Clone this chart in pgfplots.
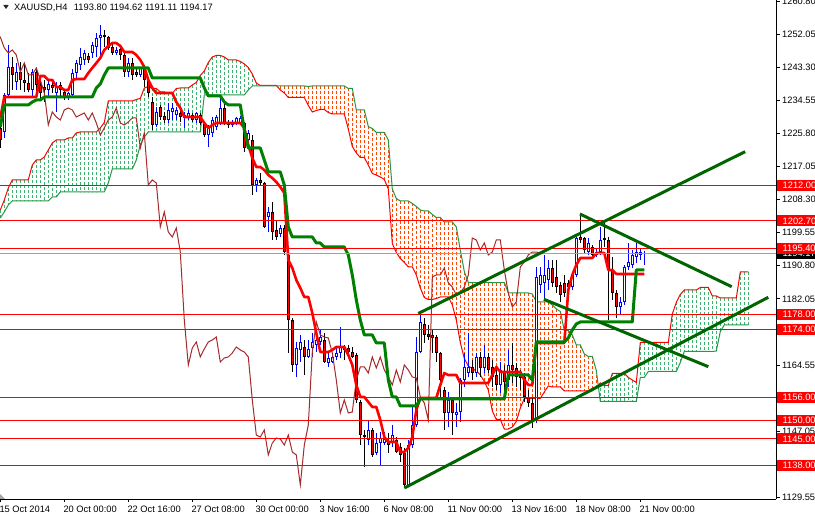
\documentclass[border=0pt]{standalone}
\usepackage{pgfplots}
\pgfplotsset{compat=1.18}
\usepackage{pgfplotstable}
\usepackage{fontspec}
\setmainfont{Liberation Sans}
\definecolor{hatchG}{RGB}{60,179,113}
\definecolor{hatchO}{RGB}{255,69,0}
\definecolor{spanB}{RGB}{40,150,70}
\definecolor{kij}{RGB}{0,128,0}
\definecolor{chik}{RGB}{165,42,42}
\definecolor{trend}{RGB}{0,100,0}
\definecolor{bull}{RGB}{0,0,255}
\definecolor{bidgray}{RGB}{160,160,160}
\newcommand{\lbl}{\fontsize{9.3bp}{11bp}\selectfont}

\pgfplotstableread{
i O H L C
0 1227.26 1228.85 1221.97 1224.09
1 1226.21 1236.52 1224.62 1236.00
2 1236.00 1249.22 1235.73 1243.40
3 1243.40 1246.05 1237.32 1241.29
4 1239.43 1244.46 1237.32 1242.08
5 1242.08 1244.73 1237.32 1239.96
6 1239.96 1243.93 1236.79 1239.17
7 1239.17 1241.81 1236.79 1237.32
8 1237.32 1242.87 1235.47 1242.08
9 1242.08 1243.14 1236.52 1238.64
10 1238.64 1241.29 1234.67 1236.52
11 1238.11 1239.96 1234.14 1237.32
12 1237.32 1239.96 1235.47 1238.90
13 1238.64 1239.43 1236.52 1237.85
14 1236.52 1239.43 1231.50 1238.38
15 1238.64 1239.43 1235.20 1237.32
16 1236.79 1237.32 1234.67 1235.20
17 1235.20 1236.79 1234.67 1236.52
18 1236.00 1242.87 1235.47 1241.81
19 1241.81 1245.26 1240.49 1244.46
20 1243.93 1248.43 1242.61 1246.05
21 1245.26 1247.90 1243.93 1247.11
22 1246.31 1247.11 1244.46 1245.26
23 1247.11 1250.02 1245.78 1249.22
24 1248.70 1252.40 1246.05 1251.08
25 1251.08 1254.51 1246.05 1251.87
26 1251.87 1253.19 1248.70 1251.34
27 1251.34 1251.60 1247.90 1248.43
28 1248.70 1249.75 1246.58 1247.11
29 1247.11 1248.70 1246.58 1247.90
30 1248.17 1249.22 1245.26 1246.58
31 1246.58 1247.37 1240.76 1242.08
32 1242.08 1245.78 1240.76 1244.46
33 1244.46 1245.78 1239.96 1241.29
34 1242.08 1243.14 1240.76 1241.29
35 1241.29 1243.40 1240.76 1243.14
36 1243.14 1243.40 1238.11 1239.96
37 1239.96 1240.76 1235.47 1236.52
38 1234.14 1235.47 1226.73 1228.06
39 1228.06 1232.82 1227.53 1231.50
40 1232.82 1233.35 1229.38 1230.17
41 1230.44 1231.50 1228.59 1229.38
42 1229.38 1233.88 1228.59 1232.03
43 1231.50 1233.88 1229.38 1232.56
44 1230.70 1232.82 1229.38 1232.03
45 1231.23 1232.56 1228.85 1230.17
46 1229.91 1231.50 1227.26 1230.70
47 1229.91 1232.03 1229.38 1231.23
48 1230.70 1231.23 1228.85 1229.38
49 1229.38 1231.50 1228.59 1231.23
50 1230.70 1231.23 1228.06 1228.59
51 1228.59 1228.85 1224.88 1225.41
52 1225.41 1228.06 1222.24 1227.26
53 1225.94 1230.17 1224.88 1229.38
54 1227.53 1230.70 1226.73 1230.17
55 1228.59 1235.20 1228.06 1232.56
56 1232.56 1234.67 1228.06 1228.59
57 1228.85 1229.38 1227.26 1228.06
58 1228.06 1229.38 1227.53 1228.85
59 1228.59 1230.17 1228.06 1229.91
60 1228.59 1230.44 1228.06 1229.91
61 1228.59 1228.85 1220.91 1221.97
62 1224.09 1226.73 1223.29 1225.94
63 1224.09 1225.41 1209.54 1212.18
64 1212.18 1214.03 1210.33 1213.51
65 1213.51 1215.36 1212.18 1212.71
66 1212.71 1212.98 1200.81 1201.07
67 1203.71 1206.36 1199.75 1205.04
68 1205.04 1207.68 1197.63 1199.75
69 1200.28 1202.92 1197.63 1198.42
70 1199.22 1201.60 1198.42 1200.81
71 1200.81 1201.60 1193.66 1194.45
72 1193.66 1194.19 1167.73 1176.46
73 1176.46 1176.99 1162.71 1164.56
74 1164.56 1170.64 1161.38 1169.06
75 1168.53 1172.50 1165.35 1170.64
76 1169.32 1171.17 1161.91 1166.68
77 1166.68 1171.17 1166.41 1168.79
78 1169.06 1173.02 1166.68 1170.64
79 1169.85 1173.82 1168.00 1171.17
80 1170.64 1173.82 1169.85 1171.97
81 1171.17 1173.02 1165.09 1165.35
82 1165.09 1167.73 1164.03 1166.41
83 1165.35 1167.20 1165.09 1166.68
84 1166.68 1169.32 1165.88 1167.73
85 1167.73 1174.61 1166.41 1169.32
86 1169.32 1169.85 1165.88 1168.53
87 1169.06 1169.85 1167.20 1168.00
88 1168.00 1169.32 1166.41 1166.68
89 1167.20 1167.73 1154.51 1155.30
90 1154.77 1155.30 1143.39 1146.04
91 1146.04 1147.36 1137.57 1145.51
92 1144.71 1150.01 1143.39 1147.36
93 1147.36 1147.89 1140.22 1140.75
94 1141.27 1146.57 1140.75 1143.92
95 1143.92 1146.83 1138.10 1145.24
96 1143.92 1146.83 1143.39 1144.98
97 1144.18 1146.57 1141.27 1143.39
98 1143.92 1148.68 1142.86 1146.04
99 1144.71 1145.51 1141.27 1141.54
100 1142.86 1143.92 1138.89 1140.75
101 1141.27 1142.60 1132.02 1132.81
102 1132.81 1144.71 1132.28 1143.39
103 1143.39 1153.45 1142.60 1148.68
104 1148.68 1171.97 1148.15 1168.00
105 1168.00 1177.79 1167.73 1175.94
106 1175.41 1176.99 1170.38 1172.50
107 1172.76 1175.14 1171.17 1171.97
108 1172.50 1173.82 1167.73 1171.70
109 1171.97 1172.50 1165.35 1167.73
110 1167.73 1168.00 1156.09 1160.59
111 1157.94 1158.74 1147.36 1151.86
112 1151.86 1157.41 1148.15 1155.30
113 1155.30 1155.83 1146.04 1151.86
114 1151.33 1154.51 1148.15 1152.12
115 1152.12 1161.12 1149.48 1160.59
116 1160.59 1167.73 1158.74 1164.03
117 1162.44 1173.02 1161.38 1164.03
118 1164.03 1165.88 1160.59 1162.44
119 1162.44 1167.73 1161.38 1166.68
120 1166.68 1168.00 1161.38 1163.76
121 1163.76 1169.85 1162.44 1166.68
122 1166.68 1167.73 1162.44 1163.23
123 1164.03 1165.88 1158.74 1161.38
124 1161.91 1163.76 1157.94 1159.27
125 1159.27 1165.35 1157.15 1163.23
126 1162.71 1164.56 1157.94 1160.06
127 1160.59 1168.53 1158.74 1164.56
128 1164.56 1170.38 1159.80 1163.23
129 1163.76 1165.09 1158.74 1161.38
130 1161.91 1163.23 1157.94 1161.12
131 1161.38 1162.44 1154.77 1156.09
132 1156.09 1157.94 1153.45 1154.51
133 1154.51 1156.09 1147.89 1150.01
134 1150.01 1190.49 1149.21 1187.84
135 1185.72 1190.49 1183.61 1188.37
136 1186.25 1193.66 1181.76 1188.37
137 1187.05 1192.34 1184.40 1190.22
138 1190.22 1192.34 1185.19 1186.25
139 1187.84 1192.34 1183.61 1185.19
140 1185.72 1186.52 1181.23 1183.08
141 1186.25 1188.37 1182.55 1183.61
142 1186.25 1187.05 1183.87 1185.19
143 1185.19 1188.90 1184.40 1188.37
144 1188.37 1198.42 1187.84 1198.16
145 1198.42 1204.24 1196.84 1197.63
146 1198.16 1198.42 1194.19 1194.98
147 1194.45 1198.16 1193.66 1196.84
148 1195.78 1196.31 1193.13 1193.66
149 1193.66 1195.51 1193.13 1194.45
150 1194.45 1201.07 1193.66 1197.63
151 1198.16 1202.13 1195.78 1197.63
152 1197.63 1198.42 1176.46 1189.69
153 1189.69 1193.13 1181.76 1183.61
154 1183.61 1184.40 1176.99 1179.90
155 1179.90 1182.55 1177.79 1181.23
156 1181.23 1191.02 1180.43 1190.49
157 1190.49 1196.84 1189.69 1191.81
158 1191.02 1194.98 1190.22 1193.66
159 1193.13 1196.84 1191.55 1194.45
160 1193.66 1195.51 1192.34 1194.45
161 1193.80 1194.62 1191.11 1194.17
}\candles

\pgfplotstableread{
i T K
0 1229.91 1227.53
1 1235.47 1233.35
2 1235.47 1233.35
3 1235.47 1233.35
4 1235.47 1233.35
5 1235.47 1233.35
6 1235.47 1233.35
7 1235.47 1233.35
8 1235.47 1234.14
9 1235.47 1234.67
10 1241.02 1234.67
11 1241.02 1235.47
12 1239.96 1235.47
13 1239.96 1235.47
14 1238.11 1235.47
15 1238.11 1235.47
16 1237.32 1235.47
17 1237.32 1235.47
18 1239.96 1235.47
19 1240.23 1235.47
20 1240.23 1235.47
21 1240.23 1235.47
22 1241.81 1235.47
23 1243.14 1235.47
24 1244.46 1237.85
25 1245.78 1238.90
26 1247.90 1241.29
27 1248.96 1243.14
28 1249.75 1243.14
29 1249.75 1243.14
30 1248.96 1243.14
31 1247.37 1243.14
32 1247.37 1243.14
33 1247.37 1243.14
34 1246.58 1243.14
35 1245.26 1243.14
36 1243.40 1243.14
37 1239.96 1243.14
38 1237.85 1240.49
39 1236.52 1240.49
40 1236.52 1240.49
41 1236.52 1240.49
42 1236.52 1240.49
43 1236.52 1240.49
44 1234.14 1240.49
45 1232.56 1240.49
46 1230.17 1240.49
47 1230.17 1240.49
48 1230.17 1240.49
49 1230.17 1240.49
50 1230.17 1240.49
51 1228.59 1237.85
52 1227.26 1235.73
53 1228.06 1235.73
54 1228.59 1235.73
55 1228.59 1235.73
56 1228.59 1234.14
57 1228.59 1233.35
58 1228.59 1233.35
59 1228.59 1233.35
60 1228.59 1233.35
61 1227.26 1226.73
62 1222.77 1221.97
63 1219.33 1221.97
64 1216.95 1221.97
65 1216.95 1221.97
66 1216.15 1218.80
67 1214.83 1215.62
68 1214.03 1215.62
69 1212.98 1215.62
70 1211.65 1215.62
71 1210.07 1212.18
72 1192.34 1201.07
73 1190.22 1198.42
74 1187.05 1198.42
75 1184.93 1198.42
76 1182.55 1198.42
77 1182.55 1198.42
78 1178.32 1198.42
79 1173.02 1196.84
80 1168.00 1196.84
81 1168.00 1195.78
82 1168.00 1195.78
83 1168.53 1195.78
84 1169.32 1195.78
85 1169.32 1195.78
86 1169.32 1195.78
87 1167.20 1193.66
88 1164.56 1188.37
89 1159.27 1181.76
90 1156.09 1176.46
91 1156.09 1172.50
92 1154.77 1172.50
93 1153.45 1172.50
94 1153.45 1170.38
95 1150.01 1170.38
96 1145.51 1170.38
97 1144.18 1160.59
98 1144.18 1156.09
99 1144.18 1156.09
100 1141.54 1153.71
101 1141.54 1153.71
102 1142.60 1153.71
103 1145.51 1153.71
104 1152.65 1153.71
105 1155.83 1155.56
106 1155.83 1155.56
107 1155.83 1155.56
108 1155.83 1155.56
109 1155.83 1155.56
110 1159.27 1155.56
111 1162.44 1155.56
112 1161.91 1155.56
113 1161.91 1155.56
114 1161.91 1155.56
115 1159.80 1155.56
116 1159.80 1155.56
117 1159.80 1155.56
118 1159.80 1155.56
119 1159.80 1155.56
120 1159.80 1155.56
121 1159.80 1155.56
122 1159.80 1155.56
123 1161.91 1155.56
124 1164.03 1155.56
125 1162.71 1155.56
126 1162.71 1155.56
127 1162.71 1161.91
128 1162.71 1161.91
129 1162.71 1161.91
130 1162.71 1161.91
131 1160.59 1161.91
132 1159.27 1161.91
133 1159.27 1160.59
134 1170.38 1170.64
135 1170.38 1170.64
136 1170.38 1170.64
137 1170.38 1170.64
138 1170.38 1170.64
139 1170.38 1170.64
140 1170.38 1170.64
141 1170.38 1170.64
142 1184.40 1171.70
143 1188.37 1173.82
144 1191.02 1175.41
145 1192.87 1175.94
146 1192.87 1175.94
147 1192.87 1175.94
148 1192.87 1175.94
149 1194.19 1175.94
150 1194.19 1175.94
151 1194.19 1175.94
152 1189.69 1175.94
153 1189.69 1175.94
154 1188.64 1175.94
155 1188.64 1175.94
156 1188.64 1175.94
157 1188.64 1175.94
158 1188.64 1175.94
159 1188.64 1189.69
160 1188.64 1189.69
161 1188.64 1189.69
}\ind

\pgfplotstableread{
i A B
0 1205.57 1203.45
1 1208.21 1205.04
2 1211.39 1206.89
3 1213.51 1207.95
4 1213.51 1207.95
5 1213.51 1207.95
6 1213.51 1207.95
7 1213.51 1207.95
8 1217.47 1207.95
9 1218.80 1207.95
10 1218.80 1207.95
11 1219.59 1207.95
12 1221.44 1207.95
13 1223.29 1209.01
14 1224.09 1209.01
15 1224.09 1210.33
16 1224.09 1210.33
17 1224.62 1210.33
18 1224.62 1210.33
19 1225.94 1210.33
20 1226.21 1210.33
21 1226.21 1210.33
22 1226.21 1210.33
23 1226.21 1210.33
24 1226.21 1210.33
25 1227.26 1210.33
26 1228.72 1210.33
27 1234.41 1212.71
28 1234.41 1216.42
29 1234.41 1216.42
30 1234.41 1216.42
31 1234.41 1216.42
32 1234.41 1216.42
33 1234.41 1216.42
34 1234.80 1218.80
35 1235.07 1222.77
36 1237.85 1224.88
37 1238.24 1226.21
38 1237.71 1226.21
39 1237.71 1226.21
40 1236.79 1226.21
41 1236.79 1226.21
42 1236.39 1226.21
43 1236.39 1226.21
44 1237.71 1226.21
45 1237.85 1226.21
46 1237.85 1226.21
47 1237.85 1226.21
48 1238.64 1226.21
49 1239.30 1226.21
50 1241.15 1226.21
51 1242.34 1236.00
52 1244.59 1236.00
53 1246.05 1236.00
54 1246.45 1236.00
55 1246.45 1236.00
56 1246.05 1236.00
57 1245.26 1236.00
58 1245.26 1236.00
59 1245.26 1236.00
60 1244.86 1236.00
61 1244.20 1236.00
62 1243.27 1237.32
63 1241.55 1238.38
64 1239.17 1238.38
65 1238.51 1238.38
66 1238.51 1238.38
67 1238.51 1238.38
68 1238.51 1238.38
69 1238.51 1238.38
70 1237.32 1238.38
71 1236.52 1238.38
72 1235.33 1238.38
73 1235.33 1238.38
74 1235.33 1238.38
75 1235.33 1238.38
76 1235.33 1238.38
77 1233.22 1238.24
78 1231.50 1238.38
79 1231.89 1238.38
80 1232.16 1238.38
81 1232.16 1238.38
82 1231.36 1238.38
83 1230.97 1238.38
84 1230.97 1238.38
85 1230.97 1238.38
86 1230.97 1238.38
87 1227.00 1237.71
88 1222.37 1237.71
89 1220.65 1232.03
90 1219.46 1232.03
91 1219.46 1232.03
92 1217.47 1227.66
93 1215.22 1227.13
94 1214.83 1226.07
95 1214.30 1226.07
96 1213.64 1226.07
97 1211.12 1224.09
98 1196.70 1211.12
99 1194.32 1208.61
100 1192.74 1207.95
101 1191.68 1207.95
102 1190.49 1207.95
103 1190.49 1207.29
104 1188.37 1206.49
105 1184.93 1205.57
106 1182.42 1205.30
107 1181.89 1205.30
108 1181.89 1204.38
109 1182.15 1203.58
110 1182.55 1203.58
111 1182.55 1202.39
112 1182.55 1202.39
113 1180.43 1202.39
114 1176.46 1201.07
115 1170.51 1194.98
116 1166.28 1189.29
117 1164.29 1186.38
118 1163.63 1186.38
119 1162.97 1186.38
120 1161.91 1186.38
121 1160.19 1186.38
122 1157.94 1186.38
123 1152.39 1186.38
124 1150.14 1186.38
125 1150.14 1186.38
126 1147.62 1186.38
127 1147.62 1183.61
128 1148.15 1183.61
129 1149.61 1183.61
130 1153.18 1183.61
131 1155.69 1183.61
132 1155.69 1183.61
133 1155.69 1183.34
134 1155.69 1181.23
135 1155.69 1181.23
136 1157.41 1181.23
137 1159.00 1181.23
138 1158.74 1180.43
139 1158.74 1179.37
140 1158.74 1178.71
141 1157.68 1173.69
142 1157.68 1173.69
143 1157.68 1172.50
144 1157.68 1169.85
145 1157.68 1169.85
146 1157.68 1167.47
147 1157.68 1166.81
148 1157.68 1166.81
149 1158.74 1163.10
150 1159.80 1154.90
151 1159.14 1154.90
152 1159.14 1154.90
153 1162.31 1154.90
154 1162.31 1154.90
155 1162.31 1154.90
156 1162.31 1154.90
157 1161.25 1154.90
158 1160.59 1154.90
159 1159.93 1154.90
160 1170.51 1161.25
161 1170.51 1161.25
162 1170.51 1162.84
163 1170.51 1162.84
164 1170.51 1162.84
165 1170.51 1162.84
166 1170.51 1162.84
167 1170.51 1162.84
168 1178.05 1162.84
169 1181.09 1162.84
170 1183.21 1165.22
171 1184.40 1168.13
172 1184.40 1168.13
173 1184.40 1168.13
174 1184.40 1168.13
175 1185.06 1168.13
176 1185.06 1168.13
177 1185.06 1168.13
178 1182.81 1168.13
179 1182.81 1168.26
180 1182.28 1173.42
181 1182.28 1175.14
182 1182.28 1175.14
183 1182.28 1175.14
184 1182.28 1175.14
185 1189.16 1175.14
186 1189.16 1175.14
187 1189.16 1175.14
}\cloud

\pgfplotsset{
  vbar/.style 2 args={draw=none, mark=none,
    error bars/y dir=minus, error bars/y explicit,
    error bars/error mark=none,
    error bars/error bar style={draw=#1, line width=#2, solid}},
  vhatch/.style={draw=none, mark=none,
    error bars/y dir=minus, error bars/y explicit,
    error bars/error mark=none,
    error bars/error bar style={draw=#1, line width=1bp, dash pattern=on 3bp off 2bp}},
}

\begin{document}
\begin{tikzpicture}
\useasboundingbox (0,0) rectangle (815bp,516bp);
\begin{axis}[
  at={(0,17bp)}, anchor=south west,
  scale only axis, width=776bp, height=499bp,
  xmin=-0.075, xmax=193.925, ymin=1129.10, ymax=1261.125,
  axis x line*=bottom, axis y line*=right,
  axis line style={black, line width=1bp},
  tick align=outside, major tick length=3.5bp,
  tick style={black, line width=1bp},
  /pgf/number format/assume math mode=true,
  xtick={0,16,32,48,64,80,96,112,128,144,160},
  xticklabels={15 Oct 2014,20 Oct 00:00,22 Oct 16:00,27 Oct 08:00,30 Oct 00:00,3 Nov 16:00,6 Nov 08:00,11 Nov 00:00,13 Nov 16:00,18 Nov 08:00,21 Nov 00:00},
  ytick={1129.55,1138.30,1147.05,1155.80,1164.55,1173.30,1182.05,1190.80,1199.55,1208.30,1217.05,1225.80,1234.55,1243.30,1252.05,1260.80},
  scaled y ticks=false,
  yticklabel style={font=\lbl, anchor=west, inner sep=0pt, xshift=2.5bp,
    /pgf/number format/fixed, /pgf/number format/fixed zerofill,
    /pgf/number format/precision=2, /pgf/number format/1000 sep={}},
  xticklabel style={font=\lbl, anchor=base west, inner sep=0pt, xshift=-1bp, yshift=-10bp},
]
% cloud hatching
\addplot[vhatch=hatchG] table[x=i, y=A, y error minus expr={max(\thisrow{A}-\thisrow{B},0)}] {\cloud};
\addplot[vhatch=hatchO] table[x=i, y=B, y error minus expr={max(\thisrow{B}-\thisrow{A},0)}] {\cloud};
\addplot[red, line width=1bp] table[x=i, y=A] {\cloud};
\addplot[spanB, line width=1bp] table[x=i, y=B] {\cloud};
% candles: wicks
\addplot[vbar={bull}{1bp}] table[x=i, y=H, y error minus expr={(\thisrow{H}-\thisrow{L})*(1-(\thisrow{C}<\thisrow{O}))}] {\candles};
\addplot[vbar={black}{1bp}] table[x=i, y=H, y error minus expr={(\thisrow{H}-\thisrow{L})*(\thisrow{C}<\thisrow{O})}] {\candles};
% bodies
\addplot[vbar={bull}{3bp}] table[x=i, y=C, y error minus expr={max(\thisrow{C}-\thisrow{O},0)}] {\candles};
\addplot[vbar={white}{1bp}] table[x=i, y expr=\thisrow{C}-0.265, y error minus expr={max(\thisrow{C}-\thisrow{O}-0.53,0)}] {\candles};
\addplot[vbar={black}{3bp}] table[x=i, y=O, y error minus expr={max(\thisrow{O}-\thisrow{C},0)}] {\candles};
\addplot[vbar={red}{1bp}] table[x=i, y expr=\thisrow{O}-0.265, y error minus expr={max(\thisrow{O}-\thisrow{C}-0.53,0)}] {\candles};
% chikou, tenkan, kijun
\addplot[chik, line width=1bp] table[x expr=\thisrow{i}-26, y=C] {\candles};
\addplot[red, line width=2.6bp, line join=round] table[x=i, y=T] {\ind};
\addplot[kij, line width=3bp, line join=round] table[x=i, y=K] {\ind};
% horizontal levels
\addplot[red, line width=1bp] coordinates {(-0.075,1212) (193.925,1212)};
\addplot[red, line width=1bp] coordinates {(-0.075,1202.7) (193.925,1202.7)};
\addplot[red, line width=1bp] coordinates {(-0.075,1195.4) (193.925,1195.4)};
\addplot[red, line width=1bp] coordinates {(-0.075,1178) (193.925,1178)};
\addplot[red, line width=1bp] coordinates {(-0.075,1174) (193.925,1174)};
\addplot[red, line width=1bp] coordinates {(-0.075,1156) (193.925,1156)};
\addplot[red, line width=1bp] coordinates {(-0.075,1150) (193.925,1150)};
\addplot[red, line width=1bp] coordinates {(-0.075,1145) (193.925,1145)};
\addplot[red, line width=1bp] coordinates {(-0.075,1138) (193.925,1138)};
\addplot[bidgray, line width=1bp] coordinates {(-0.075,1194.17) (193.925,1194.17)};
% trend lines
\addplot[trend, line width=3bp] coordinates {(104.5,1178.18) (186.2,1220.99)};
\addplot[trend, line width=3bp] coordinates {(101.0,1132.0) (192.0,1182.47)};
\addplot[trend, line width=3bp] coordinates {(144.9,1204.51) (182.85,1185.27)};
\addplot[trend, line width=3bp] coordinates {(135.9,1181.94) (177.0,1164.11)};
% label anchors
\coordinate (q1) at (axis cs:193.925,1212);
\coordinate (q2) at (axis cs:193.925,1202.7);
\coordinate (qb) at (axis cs:193.925,1194.17);
\coordinate (q3) at (axis cs:193.925,1195.4);
\coordinate (q4) at (axis cs:193.925,1178);
\coordinate (q5) at (axis cs:193.925,1174);
\coordinate (q6) at (axis cs:193.925,1156);
\coordinate (q7) at (axis cs:193.925,1150);
\coordinate (q8) at (axis cs:193.925,1145);
\coordinate (q9) at (axis cs:193.925,1138);
\end{axis}
\tikzset{pbox/.style={anchor=west, xshift=1bp, text=white, font=\lbl, inner xsep=5.5bp, inner ysep=0pt, minimum height=11bp}}
\node[pbox, fill=black] at (qb) {1194.17};
\foreach \c/\t in {q1/1212.00, q2/1202.70, q3/1195.40, q4/1178.00, q5/1174.00, q6/1156.00, q7/1150.00, q8/1145.00, q9/1138.00}
  {\node[pbox, fill=red] at (\c) {\t};}
% header
\fill[black!85] (3.3bp,511bp) -- (8.7bp,511bp) -- (6bp,507bp) -- cycle;
\node[anchor=base west, inner sep=0pt, font=\lbl] at (14bp,505.5bp) {XAUUSD,H4\hspace{4bp} 1193.80 1194.62 1191.11 1194.17};
\fill[gray!70] (0,17bp) -- (0,22bp) -- (5bp,17bp) -- cycle;
\end{tikzpicture}
\end{document}
